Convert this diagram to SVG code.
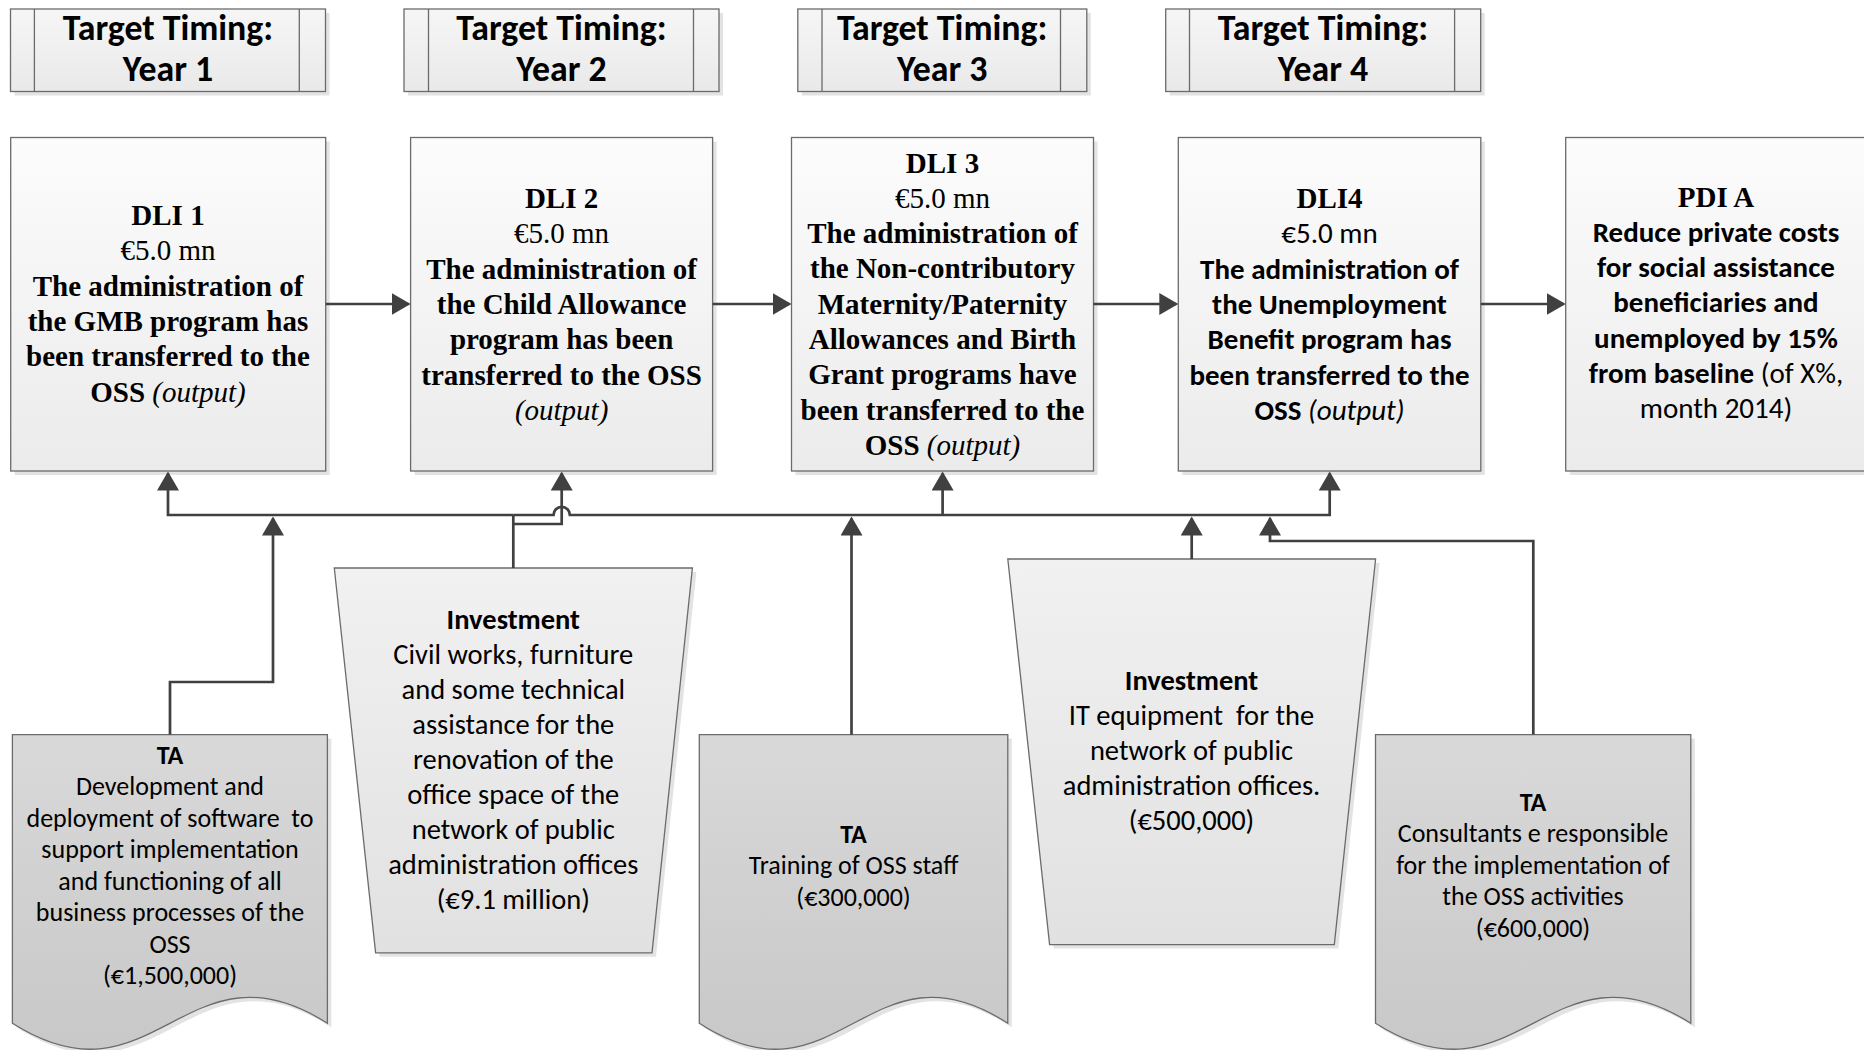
<svg xmlns="http://www.w3.org/2000/svg" width="1864" height="1050" viewBox="0 0 1864 1050">
<defs>
  <linearGradient id="gBox" x1="0" y1="0" x2="0" y2="1"><stop offset="0" stop-color="#fcfcfc"/><stop offset="1" stop-color="#ebebeb"/></linearGradient>
  <linearGradient id="gHead" x1="0" y1="0" x2="0" y2="1"><stop offset="0" stop-color="#f6f6f6"/><stop offset="1" stop-color="#e9e9e9"/></linearGradient>
  <linearGradient id="gInv" x1="0" y1="0" x2="0" y2="1"><stop offset="0" stop-color="#f1f1f1"/><stop offset="1" stop-color="#e1e1e1"/></linearGradient>
  <linearGradient id="gTA" x1="0" y1="0" x2="0" y2="1"><stop offset="0" stop-color="#d9d9d9"/><stop offset="1" stop-color="#c8c8c8"/></linearGradient>
  <marker id="arr" markerUnits="userSpaceOnUse" markerWidth="20" markerHeight="22" refX="17" refY="11" orient="auto"><path d="M0,0 L19,11 L0,22 Z" fill="#404040"/></marker>
</defs>
<style>
  .shape{stroke:#6b6b6b;stroke-width:1.3}
  .head{fill:url(#gHead)}
  .box{fill:url(#gBox)}
  .inv{fill:url(#gInv)}
  .ta{fill:url(#gTA)}
  .shadow{fill:#e3e3e3;stroke:none}
  .div{stroke:#6b6b6b;stroke-width:1.3;fill:none}
  .conn{fill:none;stroke:#404040;stroke-width:2.7}
  text{fill:#000;text-anchor:middle}
  .cal{font-family:Carlito,Lato,"Liberation Sans",sans-serif}
  .ser{font-family:"Liberation Serif","Times New Roman",serif}
  .hd{font-size:35.8px;font-weight:bold}
  .s29{font-size:29px}
  .s28{font-size:28.5px}
  .s26{font-size:26px}
  .b{font-weight:bold}
  .i{font-style:italic;font-weight:normal}
  .n{font-weight:normal}
</style>

<g id="header1">
  <rect class="shadow" x="14.5" y="13" width="315" height="82.5"/>
  <rect class="shape head" x="10.5" y="9" width="315" height="82.5"/>
  <path class="div" d="M34.4,9 V91.5 M299.3,9 V91.5"/>
  <text class="cal hd" x="168" y="39.5">Target Timing:</text>
  <text class="cal hd" x="168" y="80.5">Year 1</text>
</g>
<g id="header2">
  <rect class="shadow" x="408" y="13" width="315" height="82.5"/>
  <rect class="shape head" x="404" y="9" width="315" height="82.5"/>
  <path class="div" d="M428.5,9 V91.5 M693.5,9 V91.5"/>
  <text class="cal hd" x="561.5" y="39.5">Target Timing:</text>
  <text class="cal hd" x="561.5" y="80.5">Year 2</text>
</g>
<g id="header3">
  <rect class="shadow" x="801.8" y="13" width="289" height="82.5"/>
  <rect class="shape head" x="797.8" y="9" width="289" height="82.5"/>
  <path class="div" d="M822,9 V91.5 M1060.5,9 V91.5"/>
  <text class="cal hd" x="942.2" y="39.5">Target Timing:</text>
  <text class="cal hd" x="942.2" y="80.5">Year 3</text>
</g>
<g id="header4">
  <rect class="shadow" x="1169.7" y="13" width="315" height="82.5"/>
  <rect class="shape head" x="1165.7" y="9" width="315" height="82.5"/>
  <path class="div" d="M1189.5,9 V91.5 M1454.6,9 V91.5"/>
  <text class="cal hd" x="1323" y="39.5">Target Timing:</text>
  <text class="cal hd" x="1323" y="80.5">Year 4</text>
</g>

<g id="dli1">
  <rect class="shadow" x="14.7" y="141.5" width="315" height="333.5"/>
  <rect class="shape box" x="10.7" y="137.5" width="315" height="333.5"/>
  <text class="ser s29 b" x="168" y="225">DLI 1</text>
  <text class="ser s29" x="168" y="260.3">€5.0 mn</text>
  <text class="ser s29 b" x="168" y="295.6">The administration of</text>
  <text class="ser s29 b" x="168" y="330.9">the GMB program has</text>
  <text class="ser s29 b" x="168" y="366.2">been transferred to the</text>
  <text class="ser s29 b" x="168" y="401.5">OSS <tspan class="i">(output)</tspan></text>
</g>
<g id="dli2">
  <rect class="shadow" x="414.6" y="141.5" width="302" height="333.5"/>
  <rect class="shape box" x="410.6" y="137.5" width="302" height="333.5"/>
  <text class="ser s29 b" x="561.6" y="208">DLI 2</text>
  <text class="ser s29" x="561.6" y="243.3">€5.0 mn</text>
  <text class="ser s29 b" x="561.6" y="278.6">The administration of</text>
  <text class="ser s29 b" x="561.6" y="313.9">the Child Allowance</text>
  <text class="ser s29 b" x="561.6" y="349.2">program has been</text>
  <text class="ser s29 b" x="561.6" y="384.5">transferred to the OSS</text>
  <text class="ser s29 i" x="561.6" y="419.8">(output)</text>
</g>
<g id="dli3">
  <rect class="shadow" x="795.5" y="141.5" width="302" height="333.5"/>
  <rect class="shape box" x="791.5" y="137.5" width="302" height="333.5"/>
  <text class="ser s29 b" x="942.5" y="172.5">DLI 3</text>
  <text class="ser s29" x="942.5" y="207.8">€5.0 mn</text>
  <text class="ser s29 b" x="942.5" y="243.1">The administration of</text>
  <text class="ser s29 b" x="942.5" y="278.4">the Non-contributory</text>
  <text class="ser s29 b" x="942.5" y="313.7">Maternity/Paternity</text>
  <text class="ser s29 b" x="942.5" y="349">Allowances and Birth</text>
  <text class="ser s29 b" x="942.5" y="384.3">Grant programs have</text>
  <text class="ser s29 b" x="942.5" y="419.6">been transferred to the</text>
  <text class="ser s29 b" x="942.5" y="454.9">OSS <tspan class="i">(output)</tspan></text>
</g>
<g id="dli4">
  <rect class="shadow" x="1182.3" y="141.5" width="302.5" height="333.5"/>
  <rect class="shape box" x="1178.3" y="137.5" width="302.5" height="333.5"/>
  <text class="ser s29 b" x="1329.5" y="208">DLI4</text>
  <text class="cal s29" x="1329.5" y="243.3">€5.0 mn</text>
  <text class="cal s29 b" x="1329.5" y="278.6">The administration of</text>
  <text class="cal s29 b" x="1329.5" y="313.9">the Unemployment</text>
  <text class="cal s29 b" x="1329.5" y="349.2">Benefit program has</text>
  <text class="cal s29 b" x="1329.5" y="384.5">been transferred to the</text>
  <text class="cal s29 b" x="1329.5" y="419.8">OSS <tspan class="i">(output)</tspan></text>
</g>
<g id="pdiA">
  <rect class="shadow" x="1569.7" y="141.5" width="302" height="333.5"/>
  <rect class="shape box" x="1565.7" y="137.5" width="302" height="333.5"/>
  <text class="ser s29 b" x="1716" y="206.5">PDI A</text>
  <text class="cal s29 b" x="1716" y="241.8">Reduce private costs</text>
  <text class="cal s29 b" x="1716" y="277.1">for social assistance</text>
  <text class="cal s29 b" x="1716" y="312.4">beneficiaries and</text>
  <text class="cal s29 b" x="1716" y="347.7">unemployed by 15%</text>
  <text class="cal s29 b" x="1716" y="383">from baseline <tspan class="n">(of X%,</tspan></text>
  <text class="cal s29" x="1716" y="418.3">month 2014)</text>
</g>

<g id="ta1">
  <path class="shadow" transform="translate(4,4)" d="M12.4,734.6 V1023.3 C154.15,1113.3 185.65,933.3 327.4,1023.3 V734.6 Z"/>
  <path class="shape ta" d="M12.4,734.6 V1023.3 C154.15,1113.3 185.65,933.3 327.4,1023.3 V734.6 Z"/>
  <text class="cal s26 b" x="170" y="763.5">TA</text>
  <text class="cal s26" x="170" y="795">Development and</text>
  <text class="cal s26" x="170" y="826.5" xml:space="preserve">deployment of software  to</text>
  <text class="cal s26" x="170" y="858">support implementation</text>
  <text class="cal s26" x="170" y="889.5">and functioning of all</text>
  <text class="cal s26" x="170" y="921">business processes of the</text>
  <text class="cal s26" x="170" y="952.5">OSS</text>
  <text class="cal s26" x="170" y="984">(€1,500,000)</text>
</g>
<g id="investment1">
  <polygon class="shadow" transform="translate(4,4)" points="334.3,568 692.4,568 652,952.8 375.6,952.8"/>
  <polygon class="shape inv" points="334.3,568 692.4,568 652,952.8 375.6,952.8"/>
  <text class="cal s28 b" x="513.3" y="629">Investment</text>
  <text class="cal s28" x="513.3" y="664">Civil works, furniture</text>
  <text class="cal s28" x="513.3" y="699">and some technical</text>
  <text class="cal s28" x="513.3" y="734">assistance for the</text>
  <text class="cal s28" x="513.3" y="769">renovation of the</text>
  <text class="cal s28" x="513.3" y="804">office space of the</text>
  <text class="cal s28" x="513.3" y="839">network of public</text>
  <text class="cal s28" x="513.3" y="874">administration offices</text>
  <text class="cal s28" x="513.3" y="909">(€9.1 million)</text>
</g>
<g id="ta2">
  <path class="shadow" transform="translate(4,4)" d="M699.3,734.6 V1023.3 C838.1,1113.3 869,933.3 1007.8,1023.3 V734.6 Z"/>
  <path class="shape ta" d="M699.3,734.6 V1023.3 C838.1,1113.3 869,933.3 1007.8,1023.3 V734.6 Z"/>
  <text class="cal s26 b" x="853.5" y="842.5">TA</text>
  <text class="cal s26" x="853.5" y="874">Training of OSS staff</text>
  <text class="cal s26" x="853.5" y="905.5">(€300,000)</text>
</g>
<g id="investment2">
  <polygon class="shadow" transform="translate(4,4)" points="1007.8,559 1375.6,559 1334.3,944.6 1049.6,944.6"/>
  <polygon class="shape inv" points="1007.8,559 1375.6,559 1334.3,944.6 1049.6,944.6"/>
  <text class="cal s28 b" x="1191.5" y="690">Investment</text>
  <text class="cal s28" x="1191.5" y="725" xml:space="preserve">IT equipment  for the</text>
  <text class="cal s28" x="1191.5" y="760">network of public</text>
  <text class="cal s28" x="1191.5" y="795">administration offices.</text>
  <text class="cal s28" x="1191.5" y="830">(€500,000)</text>
</g>
<g id="ta3">
  <path class="shadow" transform="translate(4,4)" d="M1375.5,734.6 V1023.3 C1517.4,1113.3 1548.9,933.3 1690.8,1023.3 V734.6 Z"/>
  <path class="shape ta" d="M1375.5,734.6 V1023.3 C1517.4,1113.3 1548.9,933.3 1690.8,1023.3 V734.6 Z"/>
  <text class="cal s26 b" x="1533" y="810.5">TA</text>
  <text class="cal s26" x="1533" y="842">Consultants e responsible</text>
  <text class="cal s26" x="1533" y="873.5">for the implementation of</text>
  <text class="cal s26" x="1533" y="905">the OSS activities</text>
  <text class="cal s26" x="1533" y="936.5">(€600,000)</text>
</g>

<g id="connectors">
  <path class="conn" d="M325.7,304 H408.6" marker-end="url(#arr)"/>
  <path class="conn" d="M712.6,304 H789.5" marker-end="url(#arr)"/>
  <path class="conn" d="M1093.5,304 H1176.3" marker-end="url(#arr)"/>
  <path class="conn" d="M1480.8,304 H1563.7" marker-end="url(#arr)"/>
  <path class="conn" d="M513.3,515 H168 V473.5" marker-end="url(#arr)"/>
  <path class="conn" d="M513.3,515 H553.5 A8.2,8.2 0 0 1 569.9,515 H1329.7 V473.5" marker-end="url(#arr)"/>
  <path class="conn" d="M942.6,515 V473.5" marker-end="url(#arr)"/>
  <path class="conn" d="M513.3,568 V515"/>
  <path class="conn" d="M513.3,524 H561.7 V473.5" marker-end="url(#arr)"/>
  <path class="conn" d="M170,734.6 V682 H273 V518.5" marker-end="url(#arr)"/>
  <path class="conn" d="M851.5,734.6 V518.5" marker-end="url(#arr)"/>
  <path class="conn" d="M1191.7,559 V518.5" marker-end="url(#arr)"/>
  <path class="conn" d="M1533.3,734.6 V541 H1270 V518.5" marker-end="url(#arr)"/>
</g>
</svg>
